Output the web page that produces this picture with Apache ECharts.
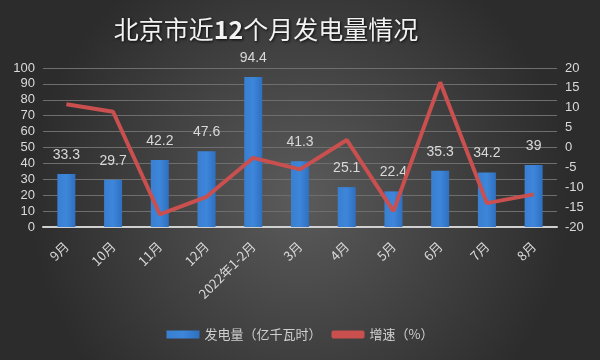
<!DOCTYPE html>
<html><head><meta charset="utf-8">
<script src="https://cdn.jsdelivr.net/npm/echarts@6/dist/echarts.min.js"></script>
<style>html,body{margin:0;padding:0;background:#3a3a3a}#c{width:600px;height:360px}</style>
</head><body><div id="c"></div>
<script>
const categories = ['9月','10月','11月','12月','2022年1-2月','3月','4月','5月','6月','7月','8月'];
const generation = [33.3, 29.7, 42.2, 47.6, 94.4, 41.3, 25.1, 22.4, 35.3, 34.2, 39];
const growth = [10.9, 9.0, -16.8, -12.4, -2.6, -5.5, 1.9, -16.0, 16.4, -14.0, -11.8];
const leftTicks = [0, 100, 10];
const rightTicks = [-20, 20, 5];

const chart = echarts.init(document.getElementById('c'));
const txt = '#d9d9d9';
const shadow = {textShadowColor:'rgba(0,0,0,0.9)', textShadowBlur:3, textShadowOffsetX:1, textShadowOffsetY:1};
chart.setOption({
  backgroundColor: {type:'radial', x:0.5, y:0.55, r:0.75, colorStops:[{offset:0,color:'#5b5b5b'},{offset:1,color:'#2c2c2c'}]},
  animation:false,
  title:{text:'{a|北京市近}{b|12}{a|个月发电量情况}', left:261, textAlign:'center', top:12,
    textStyle:{color:'#f2f2f2', fontSize:25, fontWeight:'normal', fontFamily:'Noto Sans CJK SC',
      rich:{
        a:Object.assign({color:'#f2f2f2', fontSize:25, fontWeight:'normal', fontFamily:'Noto Sans CJK SC'}, shadow),
        b:Object.assign({color:'#f2f2f2', fontSize:25, fontWeight:'bold', fontFamily:'Noto Sans CJK SC'}, shadow)
      }}},
  grid:{left:43, right:43, top:68, bottom:133},
  legend:{bottom:14, left:'center', itemGap:10, itemWidth:33, itemHeight:8,
    textStyle:{color:'#cfcfcf', fontSize:13, fontFamily:'Noto Sans CJK SC'},
    data:[{name:'发电量（亿千瓦时）', icon:'rect'}, {name:'增速（%）', icon:'roundRect'}]},
  xAxis:{type:'category', data:categories,
    axisLine:{lineStyle:{color:'#d0d0d0', width:2}}, axisTick:{show:false},
    axisLabel:{rotate:45, color:txt, fontSize:13, fontFamily:'Noto Sans CJK SC', margin:17}},
  yAxis:[
    {type:'value', min:leftTicks[0], max:leftTicks[1], interval:leftTicks[2],
      axisLabel:{color:txt, fontSize:13, fontFamily:'Liberation Sans', margin:8},
      splitLine:{lineStyle:{color:'#6e6e6e'}}, axisLine:{show:false}, axisTick:{show:false}},
    {type:'value', min:rightTicks[0], max:rightTicks[1], interval:rightTicks[2],
      axisLabel:{color:txt, fontSize:13, fontFamily:'Liberation Sans', margin:8},
      splitLine:{show:false}, axisLine:{show:false}, axisTick:{show:false}}
  ],
  series:[
    {name:'发电量（亿千瓦时）', type:'bar', data:generation, barWidth:18,
      itemStyle:{color:{type:'linear',x:0,y:0,x2:1,y2:0,colorStops:[{offset:0,color:'#3a7fd0'},{offset:0.5,color:'#3d86da'},{offset:1,color:'#2f6fc0'}]}},
      label:{show:true, position:'top', distance:12, color:txt, fontSize:14, fontFamily:'Liberation Sans'}},
    {name:'增速（%）', type:'line', yAxisIndex:1, data:growth, symbol:'none',
      lineStyle:{color:'#c9504e', width:4}, itemStyle:{color:'#c9504e'}}
  ]
});
</script></body></html>
